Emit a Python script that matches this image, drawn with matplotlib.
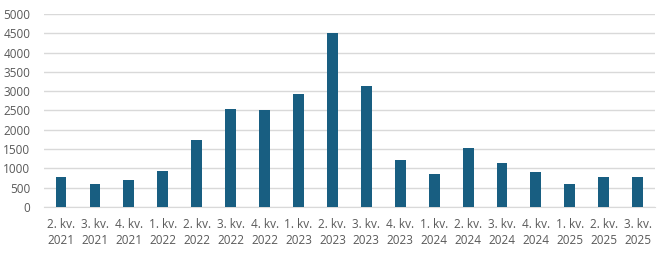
import numpy as np
import matplotlib.pyplot as plt

# Quarter labels and values
quarters = ['2. kv.', '3. kv.', '4. kv.', '1. kv.', '2. kv.', '3. kv.', '4. kv.', '1. kv.', '2. kv.',
            '3. kv.', '4. kv.', '1. kv.', '2. kv.', '3. kv.', '4. kv.', '1. kv.', '2. kv.', '3. kv.']
years = ['2021', '2021', '2021', '2022', '2022', '2022', '2022', '2023', '2023',
         '2023', '2023', '2024', '2024', '2024', '2024', '2025', '2025', '2025']
values = [780, 600, 700, 930, 1740, 2530, 2520, 2920, 4520,
          3130, 1220, 850, 1540, 1130, 900, 600, 770, 780]

labels = [q + '\n' + y for q, y in zip(quarters, years)]
x = np.arange(len(values))

plt.rcParams['font.family'] = ['Open Sans', 'DejaVu Sans']
fig = plt.figure(figsize=(6.68, 2.54), dpi=100)
ax = fig.add_axes([0.066, 0.185, 0.914, 0.76])

ax.bar(x, values, width=0.32, color='#185E81', zorder=3)
ax.set_xlim(-0.5, len(values) - 0.5)
ax.set_ylim(0, 5000)
ax.set_yticks(range(0, 5001, 500))
ax.set_xticks(x)
ax.set_xticklabels(labels, linespacing=1.3)
ax.grid(axis='y', color='#d9d9d9', linewidth=1, zorder=0)
for s in ['top', 'right', 'left']:
    ax.spines[s].set_visible(False)
ax.spines['bottom'].set_color('#d9d9d9')
ax.tick_params(axis='both', length=0, labelsize=8.5, colors='#595959')
ax.tick_params(axis='x', pad=8)
ax.tick_params(axis='y', pad=10)

fig.savefig('out.png', dpi=100)
